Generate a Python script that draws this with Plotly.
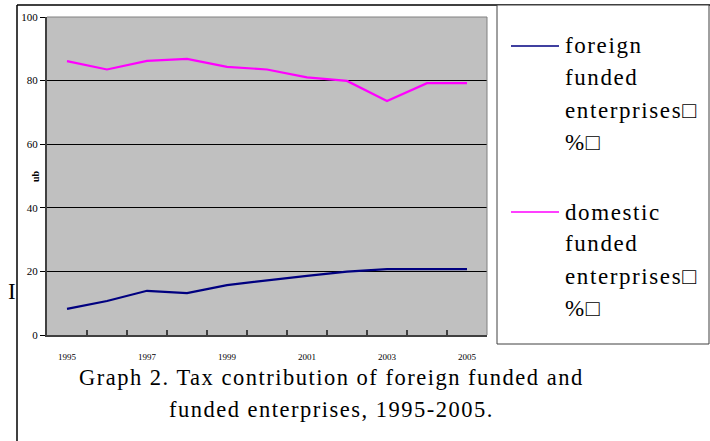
import plotly.graph_objects as go

years = [1995, 1996, 1997, 1998, 1999, 2000, 2001, 2002, 2003, 2004, 2005]
foreign = [8.2, 10.7, 13.9, 13.2, 15.7, 17.2, 18.6, 19.9, 20.7, 20.7, 20.7]
domestic = [86.1, 83.5, 86.2, 86.8, 84.3, 83.5, 81.0, 79.9, 73.6, 79.2, 79.2]
year_labels = ["1995", "1997", "1999", "2001", "2003", "2005"]
legend_foreign = ["foreign", "funded", "enterprises\u25a1", "%\u25a1"]
legend_domestic = ["domestic", "funded", "enterprises\u25a1", "%\u25a1"]
caption = ["Graph 2. Tax contribution of foreign funded and",
           "funded enterprises, 1995-2005."]

W, H = 710, 441
L, R, T, B = 47, 487, 17, 335
SERIF = "Liberation Serif"
BLUE = "#000080"
PINK = "#FF00FF"


def X(px):
    return (px - L) / (R - L)


def Y(py):
    return (B - py) / (B - T)


def spaced(t, sp):
    return '<span style="letter-spacing:%.2fpx">%s</span>' % (sp, t)


fig = go.Figure()
fig.add_trace(go.Scatter(x=years, y=domestic, mode="lines", name="domestic",
                         line=dict(color=PINK, width=2.2), xaxis="x", yaxis="y",
                         showlegend=False, hoverinfo="x+y"))
fig.add_trace(go.Scatter(x=years, y=foreign, mode="lines", name="foreign",
                         line=dict(color=BLUE, width=2.2), xaxis="x2", yaxis="y",
                         showlegend=False, hoverinfo="x+y"))

xr = [years[0] - 0.5, years[-1] + 0.5]
boundaries = [y - 0.5 for y in years] + [years[-1] + 0.5]

shapes = [
    dict(type="line", xref="paper", yref="paper", x0=0, x1=1, y0=1, y1=1,
         line=dict(color="#808080", width=1)),
    dict(type="line", xref="paper", yref="paper", x0=1, x1=1, y0=0, y1=1,
         line=dict(color="#808080", width=1)),
    dict(type="line", xref="paper", yref="paper", x0=X(17), x1=X(17), y0=Y(5), y1=Y(441),
         line=dict(color="#000000", width=1.5)),
    dict(type="line", xref="paper", yref="paper", x0=X(17), x1=X(710), y0=Y(5), y1=Y(5),
         line=dict(color="#000000", width=1.5)),
    dict(type="rect", xref="paper", yref="paper", x0=X(497), x1=X(709), y0=Y(344), y1=Y(5),
         line=dict(color="#404040", width=1), fillcolor="white"),
    dict(type="line", xref="paper", yref="paper", x0=X(511), x1=X(559), y0=Y(46), y1=Y(46),
         line=dict(color=BLUE, width=1.5)),
    dict(type="line", xref="paper", yref="paper", x0=X(511), x1=X(559), y0=Y(212), y1=Y(212),
         line=dict(color=PINK, width=1.5)),
]

annotations = []
for i, t in enumerate(legend_foreign):
    annotations.append(dict(text=spaced(t, 1.6), xref="paper", yref="paper", x=X(563),
                            y=Y(46 + 32 * i), xanchor="left", yanchor="middle",
                            showarrow=False,
                            font=dict(family=SERIF, size=23, color="black")))
for i, t in enumerate(legend_domestic):
    annotations.append(dict(text=spaced(t, 1.6), xref="paper", yref="paper", x=X(563),
                            y=Y(212 + 32 * i), xanchor="left", yanchor="middle",
                            showarrow=False,
                            font=dict(family=SERIF, size=23, color="black")))
for i, t in enumerate(caption):
    annotations.append(dict(text=spaced(t, 1.5), xref="paper", yref="paper", x=X(331),
                            y=Y(377 + 32 * i), xanchor="center", yanchor="middle",
                            showarrow=False,
                            font=dict(family=SERIF, size=22.5, color="black")))
annotations.append(dict(text="I", xref="paper", yref="paper", x=X(12), y=Y(291),
                        xanchor="center", yanchor="middle", showarrow=False,
                        font=dict(family=SERIF, size=23, color="black")))
annotations.append(dict(text="<b>ub</b>", xref="paper", yref="paper", x=X(35), y=Y(176),
                        xanchor="center", yanchor="middle", showarrow=False, textangle=-90,
                        font=dict(family=SERIF, size=10, color="black")))

fig.update_layout(
    width=W, height=H, autosize=False,
    margin=dict(l=L, r=W - R, t=T, b=H - B, pad=0),
    paper_bgcolor="white", plot_bgcolor="#C0C0C0",
    showlegend=False,
    xaxis=dict(range=xr, tickvals=years[::2], ticktext=year_labels, ticks="",
               showgrid=False, zeroline=False, showline=True, linecolor="#404040",
               linewidth=2, ticklabelstandoff=12,
               tickfont=dict(family=SERIF, size=9, color="black")),
    xaxis2=dict(range=xr, overlaying="x", anchor="y", side="bottom",
                tickvals=boundaries, ticks="inside", ticklen=5, tickwidth=1.5,
                tickcolor="#404040", showticklabels=False, showgrid=False,
                zeroline=False, showline=False),
    yaxis=dict(range=[0, 100], tickvals=[0, 20, 40, 60, 80, 100], ticks="outside",
               ticklen=5, tickcolor="#000000", tickwidth=1, showgrid=True,
               gridcolor="#000000", gridwidth=1, zeroline=False, showline=True,
               linecolor="#404040", linewidth=2,
               tickfont=dict(family=SERIF, size=11, color="black")),
    shapes=shapes,
    annotations=annotations,
)

fig.write_html(
    "out.html",
    config={"displayModeBar": False},
    post_script="document.body.style.margin='0';document.body.style.overflow='hidden';",
)
